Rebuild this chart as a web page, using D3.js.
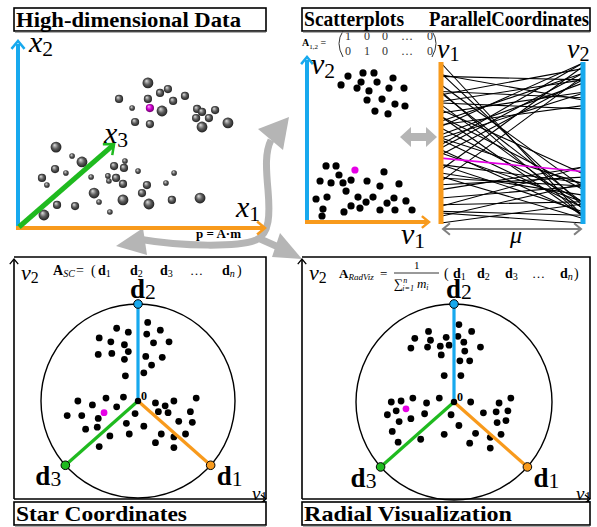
<!DOCTYPE html>
<html>
<head>
<meta charset="utf-8">
<script src="https://cdn.jsdelivr.net/npm/d3@7"></script>
<style>
  body { margin: 0; background: #fff; }
  svg { display: block; }
  text { font-family: "Liberation Serif", "Times New Roman", serif; fill: #000; }
</style>
</head>
<body>
<svg id="chart"></svg>
<script>
const width = 597
const height = 527
const blue = "#17a9ee"
const orange = "#f89a1c"
const green = "#1fba1f"
const magenta = "#e600e6"
const gray = "#b5b5b5"

// high-dimensional data: [x1, x2, depth(size class)]
const hdPoints = [
  [5.26, 7.80, 3], [5.75, 7.26, 2], [6.07, 7.47, 2], [6.76, 7.10, 2], [4.09, 6.94, 2],
  [5.26, 6.94, 2], [6.28, 6.83, 2], [4.62, 6.45, 1], [5.83, 6.29, 3], [7.25, 6.40, 2],
  [7.45, 6.24, 2], [7.98, 6.34, 2], [7.21, 5.91, 2], [7.73, 5.91, 2], [4.74, 5.70, 2],
  [5.34, 5.59, 2], [7.45, 5.43, 3], [8.50, 5.65, 3],
  [1.54, 4.35, 3], [2.19, 3.87, 1], [2.59, 3.55, 3], [4.33, 3.60, 1], [3.89, 3.33, 2],
  [4.29, 3.23, 2], [1.50, 3.17, 2], [1.94, 2.96, 1], [0.97, 2.69, 2], [1.17, 2.31, 1],
  [2.96, 2.74, 1], [3.64, 2.80, 1], [3.68, 2.53, 1], [3.97, 2.69, 2], [4.86, 3.06, 1],
  [6.32, 2.96, 1], [4.25, 2.37, 2], [5.22, 2.31, 2], [5.99, 2.42, 1], [3.08, 1.88, 3],
  [3.28, 1.40, 1], [4.25, 1.51, 3], [5.02, 1.88, 2], [5.30, 1.29, 3], [6.23, 1.51, 2],
  [7.37, 1.61, 3], [1.58, 1.24, 2], [2.31, 1.18, 2], [1.05, 0.70, 3], [3.72, 0.86, 1]
]
const hdHighlight = [5.34, 6.45, 2]
const x3Dir = [3.85, 4.46]

// scatterplot v1/v2 projection
const spPoints = [
  [3.36, 9.01], [4.59, 9.20], [5.49, 9.20], [7.05, 8.89], [2.79, 8.46], [4.43, 8.64],
  [5.74, 8.64], [4.10, 8.27], [5.08, 8.09], [6.72, 8.27], [7.95, 8.27], [6.15, 7.59],
  [4.92, 7.53], [7.21, 7.28], [8.03, 7.16], [5.57, 6.85], [6.64, 6.67],
  [1.56, 3.46], [2.38, 3.46], [6.31, 3.09], [2.62, 2.90], [1.07, 2.53], [1.97, 2.41],
  [2.95, 2.41], [3.61, 2.59], [4.92, 2.53], [5.98, 2.22], [7.54, 2.35], [3.20, 1.91],
  [4.18, 1.54], [5.41, 1.54], [0.74, 1.42], [1.64, 1.54], [7.13, 1.48], [6.56, 1.17],
  [8.11, 1.30], [4.84, 1.23], [3.61, 0.99], [5.98, 0.74], [7.21, 0.74], [8.61, 0.74],
  [1.31, 0.80], [4.34, 0.86], [3.03, 0.62], [1.23, 0.37]
]
const spHighlight = [3.93, 3.21]

// star coordinates (unit circle)
const scPoints = [
  [0.10, 0.81], [-0.22, 0.75], [-0.10, 0.71], [0.23, 0.73], [-0.40, 0.65], [-0.28, 0.61],
  [0.09, 0.69], [0.16, 0.60], [0.32, 0.61], [-0.14, 0.58], [-0.41, 0.48], [-0.27, 0.49],
  [-0.10, 0.51], [0.08, 0.46], [0.25, 0.45], [-0.14, 0.43], [0.14, 0.37], [-0.13, 0.26],
  [0.06, 0.29],
  [-0.62, 0.00], [-0.33, 0.03], [-0.15, 0.04], [-0.47, -0.04], [-0.22, -0.06], [-0.73, -0.15],
  [-0.58, -0.15], [-0.41, -0.18], [-0.03, -0.13], [-0.12, -0.23], [-0.54, -0.29], [-0.42, -0.27],
  [0.06, -0.26], [-0.29, -0.36], [-0.09, -0.34], [-0.40, -0.47],
  [0.18, -0.02], [0.37, 0.00], [0.60, 0.03], [0.28, -0.05], [0.21, -0.11], [0.31, -0.12],
  [0.54, -0.11], [0.42, -0.21], [0.56, -0.22], [0.24, -0.34], [0.37, -0.37], [0.49, -0.34],
  [0.18, -0.43], [0.37, -0.48]
]
const scHighlight = [-0.35, -0.12]

// radviz (unit circle)
const rvPoints = [
  [0.05, 0.79], [-0.26, 0.72], [0.18, 0.72], [-0.40, 0.65], [-0.24, 0.63], [-0.08, 0.66],
  [0.04, 0.67], [0.10, 0.61], [0.27, 0.56], [-0.44, 0.55], [-0.27, 0.56], [-0.14, 0.57],
  [-0.05, 0.58], [0.11, 0.52], [-0.13, 0.48], [0.06, 0.42], [0.16, 0.42], [-0.10, 0.27],
  [0.07, 0.27],
  [-0.64, 0.00], [-0.54, 0.01], [-0.42, 0.04], [-0.15, 0.04], [-0.28, -0.01], [-0.59, -0.09],
  [-0.68, -0.13], [-0.30, -0.12], [-0.44, -0.17], [-0.56, -0.20], [-0.03, -0.13], [-0.63, -0.30],
  [0.05, -0.24], [-0.10, -0.33], [-0.34, -0.38], [-0.57, -0.41],
  [0.17, 0.00], [0.46, -0.01], [0.58, 0.04], [0.30, -0.11], [0.43, -0.10], [0.55, -0.09],
  [0.44, -0.21], [0.53, -0.19], [0.22, -0.32], [0.37, -0.36], [0.48, -0.33], [0.16, -0.42],
  [0.37, -0.47]
]
const rvHighlight = [-0.49, -0.07]

const anchorNames = ["1", "2", "3"]
const anchorAngles = [-41.5, 90, 221.5]
const anchorColors = [orange, blue, green]

const titles = ["High-dimensional  Data", "Scatterplots", "ParallelCoordinates", "Star Coordinates", "Radial Visualization"]

const svg = d3.select("#chart").attr("width", width).attr("height", height)
const defs = svg.append("defs")

function sphereGrad(id, c0, c1, c2) {
  const g = defs.append("radialGradient").attr("id", id)
    .attr("cx", "50%").attr("cy", "50%").attr("r", "55%").attr("fx", "35%").attr("fy", "30%")
  g.append("stop").attr("offset", "0%").attr("stop-color", c0)
  g.append("stop").attr("offset", "50%").attr("stop-color", c1)
  g.append("stop").attr("offset", "100%").attr("stop-color", c2)
}
sphereGrad("ball", "#e0e0e0", "#5e5e5e", "#161616")
sphereGrad("ballM", "#ffa8ff", "#d000d0", "#600060")

// open chevron arrow head
function chevron(g, x, y, angleDeg, len, color, w) {
  const a = angleDeg * Math.PI / 180
  const p = [a + Math.PI * 0.78, a - Math.PI * 0.78].map(b => [x + len * Math.cos(b), y + len * Math.sin(b)])
  g.append("path")
    .attr("d", `M${p[0]}L${x},${y}L${p[1]}`)
    .attr("fill", "none").attr("stroke", color).attr("stroke-width", w)
    .attr("stroke-linecap", "square")
}

// italic letter with upright subscript
function symbol(g, x, y, main, sub, size, opts = {}) {
  const t = g.append("text").attr("x", x).attr("y", y).style("font-size", size + "px")
  t.append("tspan").text(main)
    .style("font-style", opts.bold ? "normal" : "italic")
    .style("font-weight", opts.bold ? "bold" : "normal")
  t.append("tspan").text(sub).attr("dy", opts.dy || size * 0.12)
    .style("font-size", (size * (opts.subScale || 0.72)) + "px")
  return t
}

function titleBox(x, y, w, h) {
  svg.append("rect").attr("x", x).attr("y", y).attr("width", w).attr("height", h)
    .attr("fill", "#fff").attr("stroke", "#000").attr("stroke-width", 1.6)
  svg.append("line").attr("x1", x + 1).attr("x2", x + w).attr("y1", y + h + 1.3).attr("y2", y + h + 1.3)
    .attr("stroke", "#9a9a9a").attr("stroke-width", 1)
}
function titleText(x, y, txt, len) {
  svg.append("text").attr("x", x).attr("y", y).text(txt)
    .attr("textLength", len).attr("lengthAdjust", "spacingAndGlyphs")
    .style("font-size", "21px").style("font-weight", "bold")
}

// ---------- grey flow arrows ----------
const flow = svg.append("g")
flow.append("path")
  .attr("d", "M138,239 C185,247 238,247 256,240 C270,234 270,214 268,190 C266,168 265,152 271,140")
  .attr("fill", "none").attr("stroke", gray).attr("stroke-width", 7)
flow.append("path").attr("d", "M258,238 L285,250")
  .attr("fill", "none").attr("stroke", gray).attr("stroke-width", 7)
flow.append("polygon").attr("points", "289,117 258,129 283,150").attr("fill", gray)
flow.append("polygon").attr("points", "116,246 143,228 147,255").attr("fill", gray)
flow.append("polygon").attr("points", "302,259 280,233 272,257").attr("fill", gray)

// ---------- panel 1: high-dimensional data ----------
const p1 = svg.append("g")
const hdX = d3.scaleLinear().domain([0, 10]).range([18, 265])
const hdY = d3.scaleLinear().domain([0, 10]).range([228, 42])
const hdR = d3.scaleLinear().domain([1, 3]).range([2.8, 5.4])

p1.selectAll("circle.hd")
  .data(hdPoints)
  .enter()
  .append("circle")
    .attr("class", "hd")
    .attr("cx", d => hdX(d[0]))
    .attr("cy", d => hdY(d[1]))
    .attr("r", d => hdR(d[2]))
    .attr("fill", "url(#ball)")
p1.append("circle")
  .attr("cx", hdX(hdHighlight[0])).attr("cy", hdY(hdHighlight[1])).attr("r", hdR(hdHighlight[2]))
  .attr("fill", "url(#ballM)")

p1.append("line").attr("x1", hdX(0)).attr("y1", hdY(0)).attr("x2", hdX(0)).attr("y2", hdY(10) + 2)
  .attr("stroke", blue).attr("stroke-width", 4)
chevron(p1, hdX(0), hdY(10) - 1, -90, 9, blue, 2.5)
p1.append("line").attr("x1", hdX(0) - 2).attr("y1", hdY(0)).attr("x2", hdX(10) - 2).attr("y2", hdY(0))
  .attr("stroke", orange).attr("stroke-width", 4)
chevron(p1, hdX(10), hdY(0), 0, 9, orange, 2.5)
p1.append("line").attr("x1", hdX(0) + 1).attr("y1", hdY(0) - 1).attr("x2", hdX(x3Dir[0])).attr("y2", hdY(x3Dir[1]))
  .attr("stroke", green).attr("stroke-width", 5)
chevron(p1, hdX(x3Dir[0]) + 1, hdY(x3Dir[1]) - 1, -41, 10, green, 2.5)

symbol(p1, 29, 52, "x", "2", 30)
symbol(p1, 104, 143, "x", "3", 30)
symbol(p1, 236, 217, "x", "1", 30)
p1.append("text").attr("x", 196).attr("y", 238).text("p = A\u00b7m")
  .style("font-size", "13px").style("font-weight", "bold")

// ---------- panel 2: scatterplot ----------
const p2 = svg.append("g")
const spX = d3.scaleLinear().domain([0, 10]).range([307, 429])
const spY = d3.scaleLinear().domain([0, 10]).range([222, 60])

p2.append("line").attr("x1", spX(0)).attr("y1", spY(0) + 2).attr("x2", spX(0)).attr("y2", spY(10))
  .attr("stroke", blue).attr("stroke-width", 4)
chevron(p2, spX(0), spY(10) - 3, -90, 8, blue, 2.5)
p2.append("line").attr("x1", spX(0) - 2).attr("y1", spY(0)).attr("x2", spX(10) - 2).attr("y2", spY(0))
  .attr("stroke", orange).attr("stroke-width", 4)
chevron(p2, spX(10), spY(0), 0, 8, orange, 2.5)

p2.selectAll("circle.sp")
  .data(spPoints)
  .enter()
  .append("circle")
    .attr("class", "sp")
    .attr("cx", d => spX(d[0]))
    .attr("cy", d => spY(d[1]))
    .attr("r", 3.6)
    .attr("fill", "#000")
p2.append("circle").attr("cx", spX(spHighlight[0])).attr("cy", spY(spHighlight[1])).attr("r", 3.6).attr("fill", magenta)

symbol(p2, 311, 74, "v", "2", 30)
symbol(p2, 401, 244, "v", "1", 30)

// matrix A_{1,2}
p2.append("text").attr("x", 302).attr("y", 46).style("font-size", "10px")
  .call(t => {
    t.append("tspan").text("A").style("font-weight", "bold")
    t.append("tspan").text("1,2").attr("dy", 3).style("font-size", "7px")
    t.append("tspan").text(" =").attr("dy", -3)
  })
const matRows = [["1", "0", "0", "\u2026", "0"], ["0", "1", "0", "\u2026", "0"]]
const matCols = [345, 364, 382, 401, 427]
matRows.forEach((row, i) => {
  row.forEach((v, j) => {
    p2.append("text").attr("x", matCols[j]).attr("y", 40 + i * 15).text(v)
      .style("font-size", "12px").style("fill", "#333")
  })
})
p2.append("path").attr("d", "M343,31 Q335,43 343,57").attr("fill", "none").attr("stroke", "#333").attr("stroke-width", 1)
p2.append("path").attr("d", "M432,31 Q440,43 432,57").attr("fill", "none").attr("stroke", "#333").attr("stroke-width", 1)

// double arrow scatter <-> parallel coordinates
p2.append("polygon")
  .attr("points", "400,137 411,127 411,133 426,133 426,127 437,137 426,147 426,141 411,141 411,147")
  .attr("fill", gray)

// ---------- panel 2b: parallel coordinates ----------
const pcLeft = 441
const pcRight = 583
const pcY1 = d3.scaleLinear().domain(d3.extent(spPoints.concat([spHighlight]), d => d[0])).range([223, 63])
const pcY2 = d3.scaleLinear().domain(d3.extent(spPoints.concat([spHighlight]), d => d[1])).range([223, 63])

p2.selectAll("line.pc")
  .data(spPoints)
  .enter()
  .append("line")
    .attr("class", "pc")
    .attr("x1", pcLeft).attr("x2", pcRight)
    .attr("y1", d => pcY1(d[0]))
    .attr("y2", d => pcY2(d[1]))
    .attr("stroke", "#000").attr("stroke-width", 1.1)
p2.append("line").attr("x1", pcLeft).attr("x2", pcRight)
  .attr("y1", pcY1(spHighlight[0])).attr("y2", pcY2(spHighlight[1]))
  .attr("stroke", magenta).attr("stroke-width", 1.6)

p2.append("line").attr("x1", pcLeft).attr("x2", pcLeft).attr("y1", 62).attr("y2", 224)
  .attr("stroke", orange).attr("stroke-width", 5)
p2.append("line").attr("x1", pcRight).attr("x2", pcRight).attr("y1", 62).attr("y2", 224)
  .attr("stroke", blue).attr("stroke-width", 5)
p2.append("line").attr("x1", pcLeft + 3).attr("x2", pcRight - 3).attr("y1", 229).attr("y2", 229)
  .attr("stroke", "#808080").attr("stroke-width", 2)
chevron(p2, pcLeft + 2, 229, 180, 8, "#808080", 2)
chevron(p2, pcRight - 2, 229, 0, 8, "#808080", 2)

symbol(p2, 437, 58, "v", "1", 28)
symbol(p2, 567, 58, "v", "2", 28)
p2.append("text").attr("x", 510).attr("y", 243).text("\u03bc").style("font-size", "24px").style("font-style", "italic")

// ---------- panels 3 & 4: star coordinates / radviz ----------
function radialPanel(cfg) {
  const g = svg.append("g")
  const sx = d3.scaleLinear().domain([-1, 1]).range([cfg.cx - cfg.r, cfg.cx + cfg.r])
  const sy = d3.scaleLinear().domain([-1, 1]).range([cfg.cy + cfg.r, cfg.cy - cfg.r])

  // frame + axes
  g.append("path")
    .attr("d", `M${cfg.left},${cfg.bottom}L${cfg.left},${cfg.top + 3}M${cfg.left},${cfg.top}L${cfg.right},${cfg.top}L${cfg.right},${cfg.bottom}M${cfg.left},${cfg.bottom}L${cfg.right - 2},${cfg.bottom}`)
    .attr("fill", "none").attr("stroke", "#000").attr("stroke-width", 1.6)
  chevron(g, cfg.left, cfg.top + 2, -90, 6, "#000", 1.3)
  chevron(g, cfg.right, cfg.bottom, 0, 6, "#000", 1.3)

  g.append("circle").attr("cx", sx(0)).attr("cy", sy(0)).attr("r", sx(1) - sx(0))
    .attr("fill", "none").attr("stroke", "#000").attr("stroke-width", 1.4)

  g.selectAll("circle.pt")
    .data(cfg.points)
    .enter()
    .append("circle")
      .attr("class", "pt")
      .attr("cx", d => sx(d[0]))
      .attr("cy", d => sy(d[1]))
      .attr("r", 3.4)
      .attr("fill", "#000")
  g.append("circle").attr("cx", sx(cfg.highlight[0])).attr("cy", sy(cfg.highlight[1])).attr("r", 3.4).attr("fill", magenta)

  const anchors = anchorAngles.map(a => [Math.cos(a * Math.PI / 180), Math.sin(a * Math.PI / 180)])
  g.selectAll("line.axis")
    .data(anchors)
    .enter()
    .append("line")
      .attr("class", "axis")
      .attr("x1", sx(0)).attr("y1", sy(0))
      .attr("x2", d => sx(d[0])).attr("y2", d => sy(d[1]))
      .attr("stroke", (d, i) => anchorColors[i]).attr("stroke-width", 3.2)
  g.selectAll("circle.anchor")
    .data(anchors)
    .enter()
    .append("circle")
      .attr("class", "anchor")
      .attr("cx", d => sx(d[0])).attr("cy", d => sy(d[1])).attr("r", 4.3)
      .attr("fill", (d, i) => anchorColors[i]).attr("stroke", "#000").attr("stroke-width", 1)
  g.append("circle").attr("cx", sx(0)).attr("cy", sy(0)).attr("r", 3.2).attr("fill", "#000")
  g.append("text").attr("x", sx(0) + 3).attr("y", sy(0) - 1).text("0")
    .style("font-size", "12px").style("font-weight", "bold")

  const labelOff = [[6, 20], [-8, -6], [-30, 20]]
  anchors.forEach((d, i) => {
    symbol(g, sx(d[0]) + labelOff[i][0], sy(d[1]) + labelOff[i][1], "d", anchorNames[i], 27, { bold: true, subScale: 0.8, dy: 1 })
  })

  symbol(g, cfg.left + 7, cfg.top + 23, "v", "2", 22)
  symbol(g, cfg.right - 14, cfg.bottom + 1, "v", "1", 19)
  return g
}

const g3 = radialPanel({ cx: 138, cy: 401, r: 97, left: 14, right: 266, top: 257, bottom: 499,
  points: scPoints, highlight: scHighlight })
const g4 = radialPanel({ cx: 454, cy: 402, r: 98, left: 302, right: 590, top: 257, bottom: 499,
  points: rvPoints, highlight: rvHighlight })

// formulas
function dVec(g, x, y, sub, size) {
  const t = g.append("text").attr("x", x).attr("y", y).style("font-size", size + "px")
  t.append("tspan").text("d").style("font-weight", "bold")
  t.append("tspan").text(sub).attr("dy", 2).style("font-size", (size * 0.72) + "px")
    .style("font-style", sub === "n" ? "italic" : "normal")
}
const vecSubs = ["1", "2", "3", "", "n"]
const scVecX = [98, 130, 160, 190, 222]
const rvVecX = [453, 477, 505, 532, 560]

g3.append("text").attr("x", 53).attr("y", 275).style("font-size", "14px")
  .call(t => {
    t.append("tspan").text("A").style("font-weight", "bold")
    t.append("tspan").text("SC").attr("dy", 2).style("font-size", "10px").style("font-style", "italic")
  })
g3.append("text").attr("x", 76).attr("y", 275).text("=").style("font-size", "14px")
g3.append("text").attr("x", 91).attr("y", 275).text("(").style("font-size", "14px")
vecSubs.forEach((s, i) => {
  if (s === "") g3.append("text").attr("x", scVecX[i]).attr("y", 275).text("\u2026").style("font-size", "13px")
  else dVec(g3, scVecX[i], 275, s, 14)
})
g3.append("text").attr("x", 237).attr("y", 275).text(")").style("font-size", "14px")

g4.append("text").attr("x", 339).attr("y", 278).style("font-size", "13px")
  .call(t => {
    t.append("tspan").text("A").style("font-weight", "bold")
    t.append("tspan").text("RadViz").attr("dy", 2).style("font-size", "9px").style("font-style", "italic")
  })
g4.append("text").attr("x", 380).attr("y", 278).text("=").style("font-size", "13px")
g4.append("text").attr("x", 414).attr("y", 269).text("1").style("font-size", "11px")
g4.append("line").attr("x1", 394).attr("x2", 439).attr("y1", 273).attr("y2", 273).attr("stroke", "#000").attr("stroke-width", 0.8)
g4.append("text").attr("x", 394).attr("y", 288).style("font-size", "13px")
  .call(t => {
    t.append("tspan").text("\u2211")
    t.append("tspan").text("n").attr("dy", -5).style("font-size", "8px").style("font-style", "italic")
    t.append("tspan").text("i=1").attr("dx", -5).attr("dy", 8).style("font-size", "8px").style("font-style", "italic")
    t.append("tspan").text("m").attr("dx", 3).attr("dy", -3).style("font-style", "italic")
    t.append("tspan").text("i").attr("dy", 2).style("font-size", "8px").style("font-style", "italic")
  })
g4.append("text").attr("x", 444).attr("y", 278).text("(").style("font-size", "14px")
vecSubs.forEach((s, i) => {
  if (s === "") g4.append("text").attr("x", rvVecX[i]).attr("y", 278).text("\u2026").style("font-size", "13px")
  else dVec(g4, rvVecX[i], 278, s, 14)
})
g4.append("text").attr("x", 574).attr("y", 278).text(")").style("font-size", "14px")

// ---------- titles ----------
titleBox(14, 8, 252, 23)
titleText(16, 27, titles[0], 225)
titleBox(302, 8, 288, 23)
titleText(304, 26, titles[1], 100)
titleText(429, 26, titles[2], 160)
titleBox(14, 502, 252, 23)
titleText(16, 521, titles[3], 171)
titleBox(302, 502, 288, 23)
titleText(304, 521, titles[4], 208)
</script>
</body>
</html>
